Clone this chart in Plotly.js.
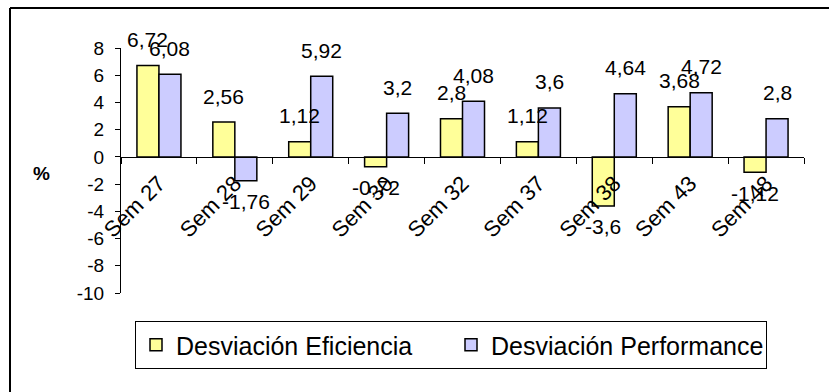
<!DOCTYPE html>
<html>
<head>
<meta charset="utf-8">
<script src="https://cdn.plot.ly/plotly-3.0.1.min.js"></script>
<style>
  html, body { margin: 0; padding: 0; background: #fff; }
  #chart { width: 829px; height: 392px; }
</style>
</head>
<body>
<div id="chart"></div>
<script>
// Weekly deviations (%) per week
const categories = ['Sem 27', 'Sem 28', 'Sem 29', 'Sem 30', 'Sem 32', 'Sem 37', 'Sem 38', 'Sem 43', 'Sem 48'];
const eficiencia = [6.72, 2.56, 1.12, -0.72, 2.8, 1.12, -3.6, 3.68, -1.12];
const performance = [6.08, -1.76, 5.92, 3.2, 4.08, 3.6, 4.64, 4.72, 2.8];
const seriesNames = ['Desviación Eficiencia', 'Desviación Performance'];
const yTicks = [-10, -8, -6, -4, -2, 0, 2, 4, 6, 8];

const FONT = 'Liberation Sans, Arial, sans-serif';
const W = 829, H = 392;
const M = { l: 121, r: 25, t: 48, b: 99 };
const yMin = -10, yMax = 8;
const BARGAP = 0.42;

const fmt = v => String(v).replace('.', ',');

const traces = [
  { name: seriesNames[0], values: eficiencia, color: '#FFFF99' },
  { name: seriesNames[1], values: performance, color: '#CCCCFF' }
].map(s => ({
  type: 'bar',
  name: s.name,
  x: categories,
  y: s.values,
  marker: { color: s.color, line: { color: '#000', width: 1.5 } },
  hoverinfo: 'x+y'
}));

// value labels sit outside the end of each bar
const half = (1 - BARGAP) / 4;
const annotations = [];
[eficiencia, performance].forEach((vals, si) => {
  vals.forEach((v, i) => {
    annotations.push({
      xref: 'x', yref: 'y',
      x: i + (si === 0 ? -half : half),
      y: v,
      text: fmt(v),
      showarrow: false,
      xanchor: 'center', yanchor: 'middle',
      yshift: v >= 0 ? 26 : -21,
      font: { family: FONT, size: 21, color: '#000' }
    });
  });
});

// axis title
annotations.push({
  xref: 'paper', yref: 'y',
  x: (41 - M.l) / (W - M.l - M.r), y: -1.25,
  text: '<b>%</b>', showarrow: false,
  xanchor: 'center', yanchor: 'middle',
  font: { family: FONT, size: 19, color: '#000' }
});

const pw = W - M.l - M.r, ph = H - M.t - M.b;
const px = X => (X - M.l) / pw;
const py = Y => (H - M.b - Y) / ph;

const layout = {
  width: W, height: H,
  margin: M,
  paper_bgcolor: '#fff', plot_bgcolor: '#fff',
  font: { family: FONT, color: '#000' },
  barmode: 'group', bargap: BARGAP, bargroupgap: 0,
  showlegend: true,
  legend: {
    orientation: 'h',
    x: px(135), xanchor: 'left',
    y: py(321), yanchor: 'top',
    bgcolor: '#fff', bordercolor: '#000', borderwidth: 1,
    font: { family: FONT, size: 25, color: '#000' },
    entrywidth: 270, entrywidthmode: 'pixels',
    traceorder: 'normal'
  },
  xaxis: {
    type: 'category',
    anchor: 'free',
    position: (0 - yMin) / (yMax - yMin),
    showline: true, linecolor: '#000', linewidth: 1,
    showgrid: false, zeroline: false,
    ticks: 'outside', tickson: 'boundaries', ticklen: 6, tickcolor: '#000',
    tickangle: -45, ticklabelstandoff: 4,
    tickfont: { family: FONT, size: 22, color: '#000' }
  },
  yaxis: {
    range: [yMin, yMax],
    tickvals: yTicks,
    ticktext: yTicks.map(String),
    showline: true, linecolor: '#000', linewidth: 1,
    showgrid: false, zeroline: false,
    ticks: 'outside', ticklen: 5, tickcolor: '#000',
    ticklabelstandoff: 7,
    tickfont: { family: FONT, size: 19, color: '#000' }
  },
  annotations: annotations,
  shapes: [
    { type: 'line', xref: 'paper', yref: 'paper', x0: px(10), x1: px(10), y0: py(8), y1: py(H + 5), line: { color: '#000', width: 2 } },
    { type: 'line', xref: 'paper', yref: 'paper', x0: px(10), x1: px(W + 5), y0: py(8), y1: py(8), line: { color: '#000', width: 2 } }
  ]
};

Plotly.newPlot('chart', traces, layout, { displayModeBar: false, staticPlot: true });
</script>
</body>
</html>
